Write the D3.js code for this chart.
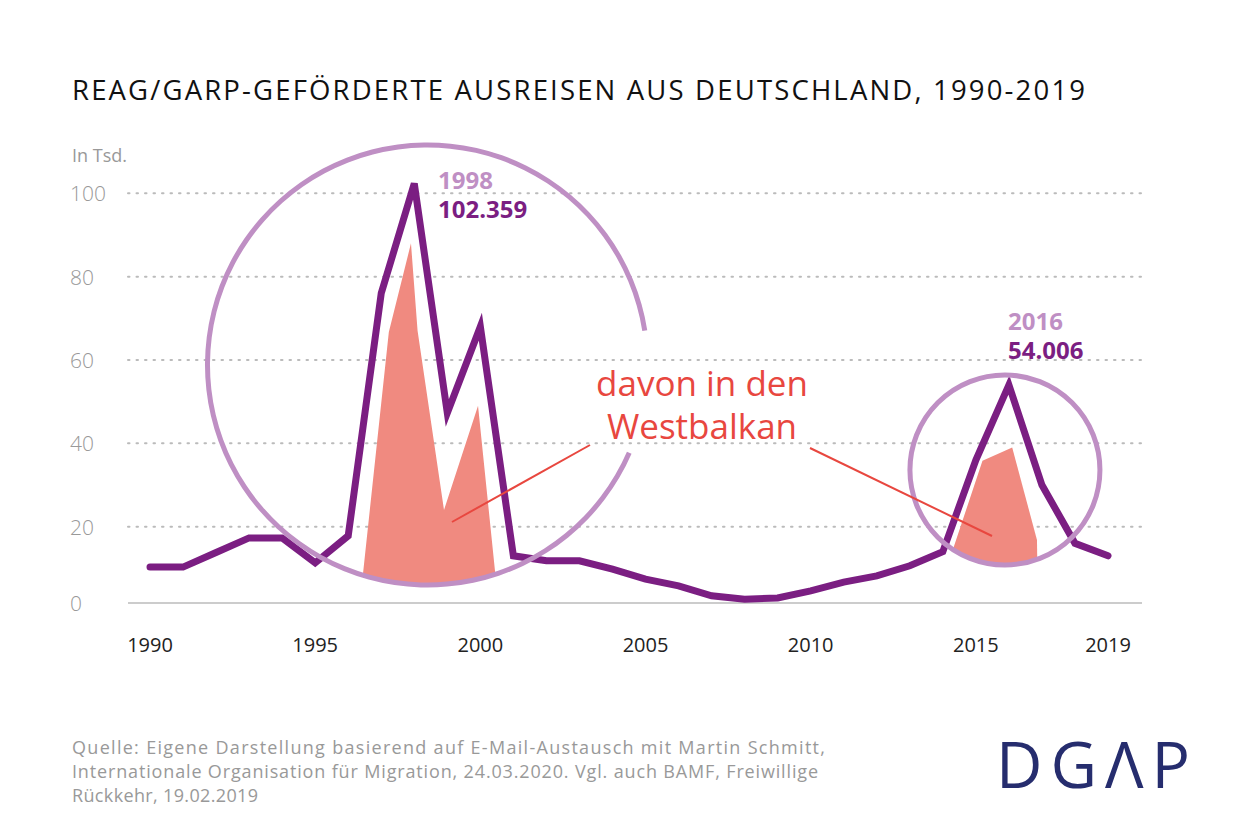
<!DOCTYPE html>
<html><head><meta charset="utf-8">
<script src="https://cdn.jsdelivr.net/npm/d3@7"></script>
<style>body{margin:0;background:#fff}text{font-family:"Open Sans",Lato,sans-serif}</style>
</head><body><svg id="c" width="1242" height="839"></svg>
<script>
// values in thousands
const years = d3.range(1990, 2020);
const total = [10.3, 10.3, 13.8, 17.3, 17.3, 11.3, 17.8, 76, 102.359, 47.3, 68, 13, 11.8, 11.8, 9.8, 7.4, 5.8, 3.4, 2.6, 2.9, 4.6, 6.7, 8.2, 10.6, 14, 36, 54.006, 30, 16, 13];
// Westbalkan share, [year, value]; bottom is cut off by the highlight circles
const balkan1 = [[1996.45, 0], [1996.45, 8.9], [1997.23, 66.7], [1997.9, 88], [1998.1, 67], [1998.9, 24], [1999.93, 49], [2000.45, 8.9], [2000.45, 0]];
const balkan2 = [[2014.1, 0], [2014.3, 14.4], [2015.2, 35.8], [2016.1, 39], [2016.85, 16.8], [2016.88, 0]];
const yTicks = [0, 20, 40, 60, 80, 100];
const xTicks = [1990, 1995, 2000, 2005, 2010, 2015, 2019];

const svg = d3.select("#c");
const x = d3.scaleLinear().domain([1990, 2019]).range([150, 1108]);
const y = d3.scaleLinear().domain([0, 100]).range([610, 193.3]);
const purple = "#7b1e82", lilac = "#bf8fc4", red = "#e8473f";

svg.append("text").attr("x", 72).attr("y", 100).attr("font-size", 27.5).attr("font-weight", 500)
  .attr("fill", "#111").attr("textLength", 1013).text("REAG/GARP-GEFÖRDERTE AUSREISEN AUS DEUTSCHLAND, 1990-2019");
svg.append("text").attr("x", 72).attr("y", 162).attr("font-size", 18).attr("fill", "#999").text("In Tsd.");

svg.selectAll(".grid").data(yTicks.filter(d => d > 0)).enter().append("line")
  .attr("x1", 128).attr("x2", 1142).attr("y1", d => y(d)).attr("y2", d => y(d))
  .attr("stroke", "#bbb").attr("stroke-width", 2).attr("stroke-dasharray", "1.5,7").attr("stroke-linecap", "round");
svg.append("line").attr("x1", 128).attr("x2", 1142).attr("y1", 603).attr("y2", 603).attr("stroke", "#bbb").attr("stroke-width", 1.5);
svg.selectAll(".yl").data(yTicks).enter().append("text")
  .attr("x", 70).attr("y", d => d === 0 ? 611 : y(d) + 8).attr("font-size", 21).attr("font-weight", 300).attr("fill", "#999").text(d => d);
svg.selectAll(".xl").data(xTicks).enter().append("text")
  .attr("x", d => x(d)).attr("y", 652).attr("text-anchor", "middle").attr("font-size", 20).attr("fill", "#222").text(d => d);

const c1 = {cx: x(1998.4), cy: y(58.8), r: 220};
const c2 = {cx: x(2015.88), cy: y(33.6), r: 95};
const defs = svg.append("defs");
[c1, c2].forEach((c, i) => defs.append("clipPath").attr("id", "cl" + i)
  .append("circle").attr("cx", c.cx).attr("cy", c.cy).attr("r", c.r));

const area = d3.line().x(d => x(d[0])).y(d => y(d[1]));
[balkan1, balkan2].forEach((b, i) => svg.append("path").attr("d", area(b) + "Z")
  .attr("fill", "#f08a80").attr("clip-path", `url(#cl${i})`));

svg.append("path").datum(total)
  .attr("d", d3.line().x((d, i) => x(years[i])).y(d => y(d)))
  .attr("fill", "none").attr("stroke", purple).attr("stroke-width", 7).attr("stroke-linejoin", "miter").attr("stroke-linecap", "round");

// highlight circles
const deg = Math.PI / 180;
svg.append("path").attr("transform", `translate(${c1.cx},${c1.cy})`)
  .attr("d", d3.arc().innerRadius(c1.r - 2.5).outerRadius(c1.r + 2.5).startAngle(113.5 * deg).endAngle(441 * deg)())
  .attr("fill", lilac);
svg.append("circle").attr("cx", c2.cx).attr("cy", c2.cy).attr("r", c2.r)
  .attr("fill", "none").attr("stroke", lilac).attr("stroke-width", 5);

// annotation
svg.append("line").attr("x1", 452).attr("y1", 522).attr("x2", 590).attr("y2", 445).attr("stroke", red).attr("stroke-width", 2);
svg.append("line").attr("x1", 810).attr("y1", 448).attr("x2", 992).attr("y2", 536).attr("stroke", red).attr("stroke-width", 2);
svg.selectAll(".ann").data(["davon in den", "Westbalkan"]).enter().append("text")
  .attr("x", 702).attr("y", (d, i) => 396 + i * 43).attr("text-anchor", "middle")
  .attr("font-size", 35).attr("fill", red).text(d => d);

const peaks = [[1998, "1998", "102.359"], [2016, "2016", "54.006"]];
peaks.forEach(([yr, a, b], i) => {
  const tx = i === 0 ? 438 : 1008, ty = i === 0 ? 189 : 330;
  svg.append("text").attr("x", tx).attr("y", ty).attr("font-size", 24).attr("font-weight", 700).attr("fill", lilac).text(a);
  svg.append("text").attr("x", tx).attr("y", ty + 29).attr("font-size", 24).attr("font-weight", 700).attr("fill", purple).text(b);
});

const src = ["Quelle: Eigene Darstellung basierend auf E-Mail-Austausch mit Martin Schmitt,",
  "Internationale Organisation für Migration, 24.03.2020. Vgl. auch BAMF, Freiwillige",
  "Rückkehr, 19.02.2019"];
const srcLen = [753, 746, 186];
svg.selectAll(".src").data(src).enter().append("text")
  .attr("x", 72).attr("y", (d, i) => 754 + i * 24).attr("font-size", 18).attr("fill", "#999")
  .attr("textLength", (d, i) => srcLen[i]).text(d => d);

svg.append("text").attr("x", 996).attr("y", 788).attr("font-size", 64).attr("font-weight", 400)
  .attr("fill", "#262d6e").attr("textLength", 194).text("DGΛP");
</script></body></html>
